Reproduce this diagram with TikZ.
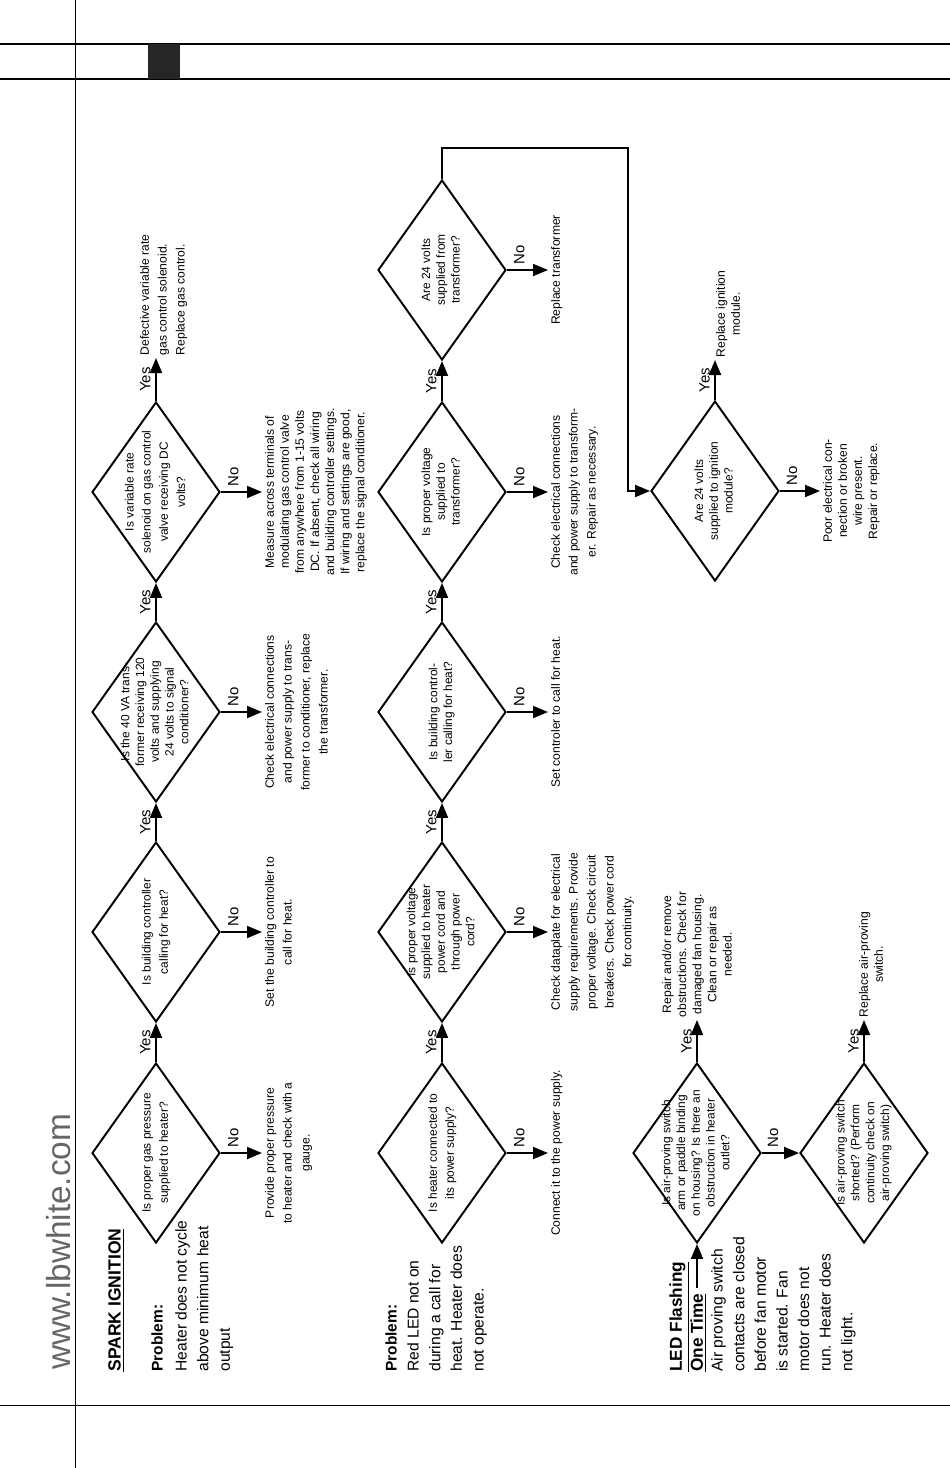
\documentclass[tikz,border=0pt]{standalone}
\usepackage{fontspec}
\setmainfont{Liberation Sans}
\usetikzlibrary{shapes.geometric,arrows.meta}

\newcommand{\qtext}[1]{\smash{\raisebox{-0.25em}{\makebox[0pt]{\begin{tabular}{@{}c@{}}#1\end{tabular}}}}}

\tikzset{
  decision/.style={diamond, draw, line width=1.1pt, minimum width=3.6cm, minimum height=2.56cm, inner sep=0pt, rotate=90, font=\fontsize{6.8}{8.4}\selectfont},
  loose/.style={font=\fontsize{6.8}{9.8}\selectfont},
  answer/.style={rotate=90, inner sep=1.5pt, align=center, font=\fontsize{6.9}{10.2}\selectfont},
  tight/.style={font=\fontsize{6.9}{8.6}\selectfont},
  tag/.style={rotate=90, inner sep=2.5pt, font=\fontsize{8.5}{10}\selectfont},
  head/.style={rotate=90, inner sep=0pt, anchor=north west, font=\fontsize{9.8}{12}\selectfont\bfseries},
  body/.style={rotate=90, inner sep=0pt, anchor=north west, align=left, font=\fontsize{8.9}{12.3}\selectfont},
  flow/.style={line width=1.1pt, -{Triangle[length=0.3cm,width=0.24cm]}}
}

\begin{document}
\begin{tikzpicture}[x=0.02cm, y=-0.02cm]
\useasboundingbox (0,0) rectangle (950,1468);
% page rules
\draw[line width=0.4pt] (75,0) -- (75,1468);
\draw[line width=0.7pt] (0,44) -- (950,44);
\draw[line width=0.7pt] (0,79) -- (950,79);
\fill[black!85] (148,44) rectangle (180,79);
\draw[line width=0.4pt] (0,1405) -- (950,1405);
\node[rotate=90, anchor=base west, inner sep=0pt, text=black!60, font=\fontsize{19}{22}\selectfont] (web) at (71,1370) {www.lbwhite.com};

% spark ignition
\node[head, font=\fontsize{10}{12}\selectfont\bfseries] (spark) at (108,1372) {\underline{SPARK IGNITION}};
\node[head, font=\fontsize{8.8}{12}\selectfont\bfseries] (prob1) at (151,1372) {Problem:};
\node[body] (desc1) at (175,1372) {Heater does not cycle\\above minimum heat\\output};
\node[decision, loose] (d1) at (156,1153) {\qtext{Is proper gas pressure\\supplied to heater?}};
\node[decision, loose] (d2) at (156,932) {\qtext{Is building controller\\calling for heat?}};
\node[decision] (d3) at (156,712) {\qtext{Is the 40 VA trans-\\former receiving 120\\volts and supplying\\24 volts to signal\\conditioner?}};
\node[decision, loose] (d4) at (156,492) {\qtext{Is variable rate\\solenoid on gas control\\valve receiving DC\\volts?}};
\node[answer, anchor=north] (n1) at (262,1153) {Provide proper pressure\\to heater and check with a\\gauge.};
\node[answer, anchor=north] (n2) at (262,932) {Set the building controller to\\call for heat.};
\node[answer, anchor=north] (n3) at (262,712) {Check electrical connections\\and power supply to trans-\\former to conditioner, replace\\the transformer.};
\node[answer, tight, anchor=north] (n4) at (262,492) {Measure across terminals of\\modulating gas control valve\\from anywhere from 1-15 volts\\DC. If absent, check all wiring\\and building controller settings.\\If wiring and settings are good,\\replace the signal conditioner.};
\node[answer, align=left, anchor=north west] (y4) at (137,358) {Defective variable rate\\gas control solenoid.\\Replace gas control.};
\draw[flow] (d1.east) -- node[tag, anchor=south] (yes1) {Yes} (d2.west);
\draw[flow] (d2.east) -- node[tag, anchor=south] (yes2) {Yes} (d3.west);
\draw[flow] (d3.east) -- node[tag, anchor=south] (yes3) {Yes} (d4.west);
\draw[flow] (d4.east) -- node[tag, anchor=south] (yes4) {Yes} (d4.east |- y4.west);
\draw[flow] (d1.south) -- node[tag, pos=.3, anchor=west] (no1) {No} (n1.north);
\draw[flow] (d2.south) -- node[tag, pos=.3, anchor=west] (no2) {No} (n2.north);
\draw[flow] (d3.south) -- node[tag, pos=.3, anchor=west] (no3) {No} (n3.north);
\draw[flow] (d4.south) -- node[tag, pos=.3, anchor=west] (no4) {No} (n4.north);

% red led
\node[head, font=\fontsize{8.8}{12}\selectfont\bfseries] (prob2) at (385,1372) {Problem:};
\node[body] (desc2) at (407,1372) {Red LED not on\\during a call for\\heat. Heater does\\not operate.};
\node[decision, loose] (d5) at (442,1153) {\qtext{Is heater connected to\\its power supply?}};
\node[decision] (d6) at (442,932) {\qtext{Is proper voltage\\supplied to heater\\power cord and\\through power\\cord?}};
\node[decision] (d7) at (442,712) {\qtext{Is building control-\\ler calling for heat?}};
\node[decision] (d8) at (442,492) {\qtext{Is proper voltage\\supplied to\\transformer?}};
\node[decision] (d9) at (442,270) {\qtext{Are 24 volts\\supplied from\\transformer?}};
\node[decision] (d11) at (715,491) {\qtext{Are 24 volts\\supplied to ignition\\module?}};
\node[answer, anchor=north] (n5) at (548,1153) {Connect it to the power supply.};
\node[answer, anchor=north] (n6) at (548,932) {Check dataplate for electrical\\supply requirements. Provide\\proper voltage. Check circuit\\breakers. Check power cord\\for continuity.};
\node[answer, anchor=north] (n7) at (548,712) {Set controler to call for heat.};
\node[answer, anchor=north] (n8) at (548,492) {Check electrical connections\\and power supply to transform-\\er. Repair as necessary.};
\node[answer, anchor=north] (n9) at (548,270) {Replace transformer};
\node[answer, tight, anchor=north] (n11) at (820,491) {Poor electrical con-\\nection or broken\\wire present.\\Repair or replace.};
\node[answer, tight, anchor=west] (y11) at (728,360) {Replace ignition\\module.};
\coordinate (corner) at (628,148);
\draw[flow] (d5.east) -- node[tag, anchor=south] (yes5) {Yes} (d6.west);
\draw[flow] (d6.east) -- node[tag, anchor=south] (yes6) {Yes} (d7.west);
\draw[flow] (d7.east) -- node[tag, anchor=south] (yes7) {Yes} (d8.west);
\draw[flow] (d8.east) -- node[tag, anchor=south] (yes8) {Yes} (d9.west);
\draw[flow] (d9.east) |- (corner) |- (d11.north);
\draw[flow] (d11.east) -- node[tag, anchor=south] (yes11) {Yes} (d11.east |- y11.west);
\draw[flow] (d5.south) -- node[tag, pos=.3, anchor=west] (no5) {No} (n5.north);
\draw[flow] (d6.south) -- node[tag, pos=.3, anchor=west] (no6) {No} (n6.north);
\draw[flow] (d7.south) -- node[tag, pos=.3, anchor=west] (no7) {No} (n7.north);
\draw[flow] (d8.south) -- node[tag, pos=.3, anchor=west] (no8) {No} (n8.north);
\draw[flow] (d9.south) -- node[tag, pos=.3, anchor=west] (no9) {No} (n9.north);
\draw[flow] (d11.south) -- node[tag, pos=.3, anchor=west] (no11) {No} (n11.north);

% led flashing
\node[head] (led) at (669,1372) {\underline{LED Flashing}};
\node[head] (onetime) at (690,1372) {\underline{One Time}};
\node[body] (desc3) at (711,1372) {Air proving switch\\contacts are closed\\before fan motor\\is started. Fan\\motor does not\\run. Heater does\\not light.};
\node[decision] (d12) at (697,1153) {\qtext{Is air-proving switch\\arm or paddle binding\\on housing? Is there an\\obstruction in heater\\outlet?}};
\node[decision] (d13) at (864,1153) {\qtext{Is air-proving switch\\shorted? (Perform\\continuity check on\\air-proving switch)}};
\node[answer, tight, anchor=west] (y12) at (697,1020) {Repair and/or remove\\obstructions. Check for\\damaged fan housing.\\Clean or repair as\\needed.};
\node[answer, tight, anchor=west] (y13) at (871,1020) {Replace air-proving\\switch.};
\draw[flow, shorten <=3pt] (d12.west |- onetime.east) -- (d12.west);
\draw[flow] (d12.east) -- node[tag, anchor=south] (yes12) {Yes} (d12.east |- y12.west);
\draw[flow] (d13.east) -- node[tag, anchor=south] (yes13) {Yes} (d13.east |- y13.west);
\draw[flow] (d12.south) -- node[tag, pos=.3, anchor=west] (no12) {No} (d13.north);
\end{tikzpicture}
\end{document}
